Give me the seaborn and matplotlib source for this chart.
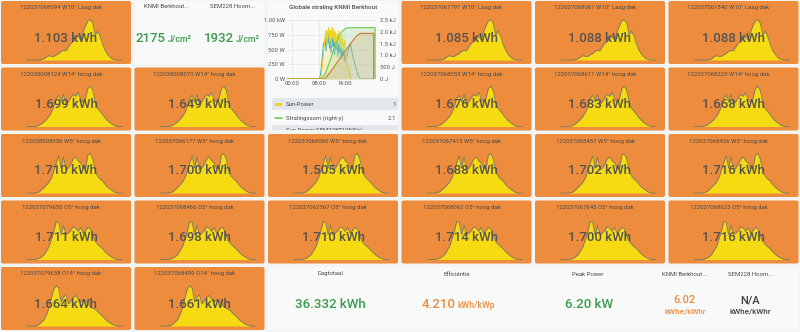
import numpy as np
import pandas as pd
import matplotlib
matplotlib.use("Agg")
import matplotlib.pyplot as plt
from matplotlib.patches import FancyBboxPatch, Rectangle
import seaborn as sns

sns.set_theme(style="white")
plt.rcParams["font.family"] = ["Roboto", "DejaVu Sans"]

W, H = 800, 332
PAGE_BG = "#f3f4f4"
CARD_BG = "#f8f9f9"
ORANGE = "#ee8c3d"
SPARK_FILL = "#f6da12"
SPARK_LINE = "#857f5c"
GREEN_TXT = "#3b9a4c"
ORANGE_TXT = "#ee8c3d"
DARK_TXT = "#3f3f3f"
TITLE_TXT = "#4a4a4a"

# ---- inverter tiles -------------------------------------------------------
inverter_serials = [
    "122037068094", "122037067791", "122037068061", "122037061840",
    "122038008124", "122038008073", "122037068053", "122037068611", "122037068223",
    "122038008936", "122037066177", "122037068060", "122037067415", "122037068457", "122037068456",
    "122037079650", "122037068466", "122037062367", "122037068062", "122037067645", "122037068623",
    "122037079638", "122037068499",
]
inverter_roofs = (["W10° Laag dak"] * 4 + ["W14° hoog dak"] * 5 + ["W5° hoog dak"] * 6
                  + ["O5° hoog dak"] * 6 + ["O14° hoog dak"] * 2)
inverter_kwh = [
    1.103, 1.085, 1.088, 1.088,
    1.699, 1.649, 1.676, 1.683, 1.668,
    1.710, 1.700, 1.505, 1.688, 1.702, 1.716,
    1.711, 1.698, 1.710, 1.714, 1.700, 1.716,
    1.664, 1.661,
]
tile_rows = [0, 0, 0, 0, 1, 1, 1, 1, 1, 2, 2, 2, 2, 2, 2, 3, 3, 3, 3, 3, 3, 4, 4]
tile_cols = [0, 3, 4, 5, 0, 1, 3, 4, 5, 0, 1, 2, 3, 4, 5, 0, 1, 2, 3, 4, 5, 0, 1]

# daily power shape per roof section (relative to the day's peak)
profile_w10 = [0, 0, 0, 0, 0, 0, 0.01, 0.03, 0.08, 0.11, 0.09, 0.09, 0.13, 0.16, 0.22, 0.24,
               0.23, 0.33, 0.42, 0.46, 0.52, 0.60, 0.50, 0.70, 0.85, 0.98, 1.00, 0.92, 0.62, 0.72,
               0.60, 0.40, 0.25, 0.15, 0.08, 0.03, 0.01, 0, 0, 0]
profile_w14 = [0, 0, 0, 0, 0.01, 0.03, 0.07, 0.12, 0.18, 0.25, 0.35, 0.50, 0.70, 0.78, 0.62,
               0.80, 0.55, 0.62, 0.72, 0.80, 0.75, 0.85, 0.68, 0.60, 0.70, 0.95, 1.00, 0.90, 0.60,
               0.45, 0.38, 0.30, 0.22, 0.15, 0.10, 0.05, 0.02, 0, 0, 0]
profile_w5 = [0, 0, 0, 0, 0.01, 0.03, 0.08, 0.14, 0.20, 0.27, 0.38, 0.55, 0.75, 0.93, 0.62,
              0.90, 0.58, 0.62, 0.72, 0.85, 0.90, 0.80, 0.75, 0.62, 0.60, 0.95, 0.98, 0.85, 0.55,
              0.42, 0.35, 0.30, 0.22, 0.15, 0.10, 0.06, 0.02, 0, 0, 0]
profile_o5 = [0, 0, 0, 0, 0.01, 0.03, 0.07, 0.12, 0.22, 0.32, 0.50, 0.70, 0.95, 0.92, 0.62,
              0.85, 0.62, 0.66, 0.72, 0.82, 0.78, 0.70, 0.80, 0.66, 0.72, 0.80, 0.76, 0.58, 0.45,
              0.38, 0.32, 0.27, 0.20, 0.14, 0.09, 0.05, 0.02, 0, 0, 0]
profile_o14 = [0, 0, 0, 0, 0.01, 0.04, 0.10, 0.16, 0.28, 0.45, 0.70, 0.92, 1.00, 0.95, 0.60,
               0.72, 0.78, 0.55, 0.62, 0.72, 0.76, 0.66, 0.60, 0.66, 0.63, 0.55, 0.48, 0.44, 0.42,
               0.36, 0.30, 0.24, 0.18, 0.12, 0.08, 0.04, 0.02, 0, 0, 0]
roof_profiles = {
    "W10° Laag dak": profile_w10,
    "W14° hoog dak": profile_w14,
    "W5° hoog dak": profile_w5,
    "O5° hoog dak": profile_o5,
    "O14° hoog dak": profile_o14,
}

# ---- irradiance chart -----------------------------------------------------
sun_hours = [-1.5, 8.5, 8.75, 9.0, 9.25, 9.5, 9.75, 10.0, 10.25, 10.5, 10.75, 11.0, 11.25, 11.5,
             11.75, 12.0, 12.25, 12.5, 12.75, 13.0, 13.25, 13.5, 13.75, 14.0, 14.25, 14.5, 14.75,
             15.0, 15.25, 15.5, 15.75, 16.0, 16.25, 16.5, 16.75, 17.0, 17.25, 17.5, 17.75]
sun_power_w = [0, 0, 50, 150, 300, 450, 600, 750, 820, 600, 780, 870, 650, 820, 560, 880, 700,
               850, 620, 800, 560, 760, 680, 820, 600, 700, 520, 740, 620, 500, 650, 420, 380,
               300, 220, 150, 90, 40, 0]
sem_hours = [8.25, 8.5, 8.75, 9.0, 9.25, 9.5, 9.75, 10.0, 10.25, 10.5, 10.75, 11.0, 11.25, 11.5,
             11.75, 12.0, 12.25, 12.5, 12.75, 13.0, 13.25, 13.5, 13.75, 14.0, 14.25, 14.5, 14.75,
             15.0, 15.25, 15.5, 15.75, 16.0, 16.5, 17.0, 17.5, 18.0, 18.5, 19.0, 19.5, 20.0,
             20.5, 24.5]
sem_power_w = [0, 60, 180, 320, 480, 620, 560, 700, 480, 780, 600, 820, 520, 700, 450, 760, 550,
               680, 420, 720, 500, 640, 380, 600, 450, 560, 350, 520, 400, 480, 300, 420, 380,
               520, 600, 450, 330, 220, 120, 50, 0, 0]
sum_hours = [-1.5, 8.75, 9.0, 9.5, 10.0, 10.5, 11.0, 11.5, 12.0, 12.5, 13.0, 13.5, 14.0, 14.5,
             15.0, 15.5, 16.0, 16.5, 17.0, 17.5, 24.9, 24.9]
knmi_sum_j = [0, 0, 30, 120, 260, 430, 620, 820, 1020, 1220, 1410, 1590, 1760, 1900, 2010,
              2080, 2130, 2160, 2170, 2175, 2175, 0]
sem_sum_hours = [-1.5, 9.5, 10.0, 11.0, 12.0, 13.0, 14.0, 15.0, 16.0, 17.0, 18.0, 19.0, 20.0,
                 20.5, 24.5, 24.5]
sem_sum_j = [0, 0, 30, 200, 390, 590, 790, 990, 1190, 1390, 1580, 1760, 1890, 1932, 1932, 0]

# ---- single stats ---------------------------------------------------------
knmi_radiation = 2175
sem_radiation = 1932
day_total_kwh = 36.332
efficiency = 4.210
peak_power_kw = 6.20
knmi_ratio = 6.02

# ---- layout helpers -------------------------------------------------------
col_x = [1, 134.5, 268, 401.5, 535, 668.5]
row_y = [1, 67.5, 134, 200.5, 267]
TILE_W, TILE_H = 130, 63

fig = plt.figure(figsize=(W / 100, H / 100), dpi=100, facecolor=PAGE_BG)
bg = fig.add_axes([0, 0, 1, 1])
bg.set_xlim(0, W)
bg.set_ylim(H, 0)
bg.axis("off")


def px_axes(x, y, w, h, **kw):
    return fig.add_axes([x / W, 1 - (y + h) / H, w / W, h / H], **kw)


def card(x, y, w, h, color):
    bg.add_patch(FancyBboxPatch((x + 1, y + 1), w - 2, h - 2,
                                boxstyle="round,pad=1,rounding_size=2",
                                fc=color, ec="none", zorder=1))


# light cards
card(134.5, 1, 130, 63, CARD_BG)
card(268, 1, 130, 129.5, CARD_BG)
card(268, 267, 530.5, 63, CARD_BG)

# inverter tiles with sparkline
for serial, roof, kwh, r, c in zip(inverter_serials, inverter_roofs, inverter_kwh,
                                   tile_rows, tile_cols):
    x0, y0 = col_x[c], row_y[r]
    card(x0, y0, TILE_W, TILE_H, ORANGE)
    prof = roof_profiles[roof]
    spark = pd.DataFrame({"t": np.arange(len(prof)), "p": prof})
    ax = px_axes(x0 + 26, y0 + 18, 95, 41)
    ax.patch.set_alpha(0)
    ax.fill_between(spark["t"], spark["p"], 0, color=SPARK_FILL, lw=0, zorder=1)
    sns.lineplot(data=spark, x="t", y="p", ax=ax, color=SPARK_LINE, lw=0.7,
                 estimator=None, sort=False, zorder=2)
    ax.set_xlim(0, len(prof) - 1)
    ax.set_ylim(0, 1.02)
    ax.axis("off")
    for ln in ax.lines:
        ln.set_clip_on(False)
    bg.text(x0 + 60, y0 + 7, f"{serial} {roof}", ha="center", va="center",
            fontsize=4.3, color=TITLE_TXT, zorder=3)
    fig.text((x0 + 65) / W, 1 - (y0 + 37) / H, f"{kwh:.3f} kWh", ha="center", va="center",
             fontsize=9.5, fontweight="medium", color="#555250", zorder=10)

# radiation stat pair
bg.text(166, 7, "KNMI Berkhout...", ha="center", va="center", fontsize=4.3, color=TITLE_TXT, zorder=3)
bg.text(232, 7, "SEM228 Hoorn...", ha="center", va="center", fontsize=4.3, color=TITLE_TXT, zorder=3)
bg.text(166, 39, f"{knmi_radiation}", ha="right", va="center", fontsize=9.5,
        fontweight="medium", color=GREEN_TXT, zorder=3)
bg.text(168, 40, "J/cm²", ha="left", va="center", fontsize=6.3,
        fontweight="medium", color=GREEN_TXT, zorder=3)
bg.text(234, 39, f"{sem_radiation}", ha="right", va="center", fontsize=9.5,
        fontweight="medium", color=GREEN_TXT, zorder=3)
bg.text(236, 40, "J/cm²", ha="left", va="center", fontsize=6.3,
        fontweight="medium", color=GREEN_TXT, zorder=3)

# irradiance chart
bg.text(333, 7, "Globale straling KNMI Berkhout", ha="center", va="center",
        fontsize=4.5, fontweight="medium", color=TITLE_TXT, zorder=3)
cax = px_axes(287, 20, 89, 59)
cax.patch.set_alpha(0)
sun = pd.DataFrame({"h": sun_hours, "w": sun_power_w})
sem = pd.DataFrame({"h": sem_hours, "w": sem_power_w})
cax.fill_between(sun["h"], sun["w"], 0, color="#f3e37a", alpha=0.35, lw=0)
sns.lineplot(data=sem, x="h", y="w", ax=cax, color="#4fb3c9", lw=0.8, estimator=None,
             sort=False, zorder=2)
sns.lineplot(data=sun, x="h", y="w", ax=cax, color="#f2d21c", lw=0.8, estimator=None,
             sort=False, zorder=3)
cax.set_xlim(-1.5, 25.2)
cax.set_ylim(0, 1000)
cax.set_yticks([0, 250, 500, 750, 1000])
cax.set_yticklabels(["0 W", "250 W", "500 W", "750 W", "1.00 kW"])
cax.set_xticks([0, 8, 16])
cax.set_xticklabels(["00:00", "08:00", "16:00"])
cax.grid(True, color="#e2e4e6", lw=0.5)
cax.set_xlabel("")
cax.set_ylabel("")
for s in cax.spines.values():
    s.set_visible(False)
cax.tick_params(axis="both", length=0, pad=1.5, labelsize=4.2, colors="#555555")

rax = cax.twinx()
knmi = pd.DataFrame({"h": sum_hours, "j": knmi_sum_j})
semsum = pd.DataFrame({"h": sem_sum_hours, "j": sem_sum_j})
rax.fill_between(knmi["h"], knmi["j"], 0, color="#a9d99a", alpha=0.3, lw=0)
rax.fill_between(semsum["h"], semsum["j"], 0, color="#c9ad7a", alpha=0.3, lw=0)
sns.lineplot(data=knmi, x="h", y="j", ax=rax, color="#73cc5c", lw=0.9, estimator=None, sort=False)
sns.lineplot(data=semsum, x="h", y="j", ax=rax, color="#c9843e", lw=0.9, estimator=None, sort=False)
rax.set_ylim(0, 2500)
rax.set_yticks([0, 500, 1000, 1500, 2000, 2500])
rax.set_yticklabels(["0 J", "500 J", "1.0 kJ", "1.5 kJ", "2.0 kJ", "2.5 kJ"])
rax.set_xlim(-1.5, 25.2)
rax.set_ylabel("")
rax.grid(False)
for s in rax.spines.values():
    s.set_visible(False)
rax.tick_params(axis="y", length=0, pad=3, labelsize=4.2, colors="#555555")

# chart legend
bg.add_patch(Rectangle((272, 98), 126, 12, fc="#e3e6ea", ec="none", zorder=2))
bg.add_patch(Rectangle((275, 102.5), 7, 3, fc="#f2d21c", ec="none", zorder=3))
bg.text(286, 104, "Sun-Power", ha="left", va="center", fontsize=4.3, color=TITLE_TXT, zorder=3)
bg.text(396, 104, "1", ha="right", va="center", fontsize=4.3, color=TITLE_TXT, zorder=3)
bg.plot([275, 282], [118, 118], color="#73cc5c", lw=1.2, zorder=3)
bg.text(286, 118, "Stralingssom (right-y)", ha="left", va="center", fontsize=4.3, color=TITLE_TXT, zorder=3)
bg.text(396, 118, "2.1", ha="right", va="center", fontsize=4.3, color=TITLE_TXT, zorder=3)
bg.add_patch(Rectangle((272, 124.5), 126, 8, fc="#e3e6ea", ec="none", zorder=2))
bg.text(286, 130, "Sun Power SEM228T10N5(r)", ha="left", va="center", fontsize=4.3, color=TITLE_TXT, zorder=3)
bg.add_patch(Rectangle((266, 130), 134, 4, fc=PAGE_BG, ec="none", zorder=4))

# bottom stat row
stat_titles = ["Dagtotaal", "Efficiëntie", "Peak Power", "KNMI Berkhout...", "SEM228 Hoorn..."]
stat_x = [330, 457, 588, 685, 750]
for t, x in zip(stat_titles, stat_x):
    bg.text(x, 274, t, ha="center", va="center", fontsize=4.3, color=TITLE_TXT, zorder=3)
bg.text(330, 304, f"{day_total_kwh:.3f} kWh", ha="center", va="center", fontsize=9.5,
        fontweight="medium", color=GREEN_TXT, zorder=3)
bg.text(455.5, 304, f"{efficiency:.3f}", ha="right", va="center", fontsize=9.5,
        fontweight="medium", color=ORANGE_TXT, zorder=3)
bg.text(457.5, 305, "kWh/kWp", ha="left", va="center", fontsize=6.3,
        fontweight="medium", color=ORANGE_TXT, zorder=3)
bg.text(589, 304, f"{peak_power_kw:.2f} kW", ha="center", va="center", fontsize=9.5,
        fontweight="medium", color=GREEN_TXT, zorder=3)
bg.text(685, 300, f"{knmi_ratio:.2f}", ha="center", va="center", fontsize=8,
        fontweight="medium", color=ORANGE_TXT, zorder=3)
bg.text(685, 312, "kWhe/kWhr", ha="center", va="center", fontsize=5.8,
        fontweight="medium", color=ORANGE_TXT, zorder=3)
bg.text(750, 300, "N/A", ha="center", va="center", fontsize=8,
        fontweight="medium", color=DARK_TXT, zorder=3)
bg.text(750, 312, "kWhe/kWhr", ha="center", va="center", fontsize=5.8,
        fontweight="medium", color=DARK_TXT, zorder=3)

fig.savefig("out.png", dpi=100, facecolor=PAGE_BG)
